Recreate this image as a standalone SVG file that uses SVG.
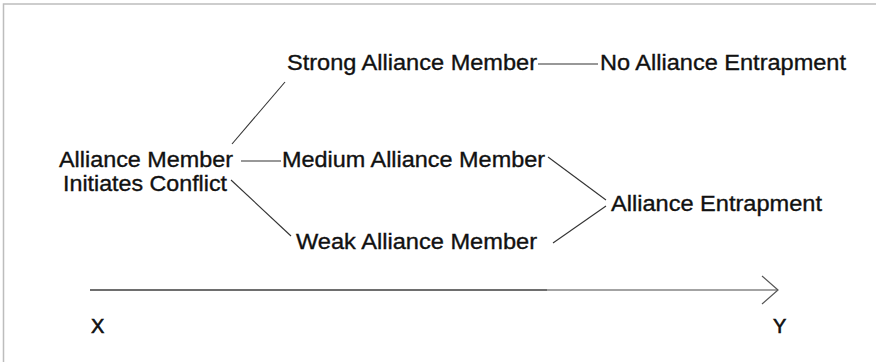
<svg xmlns="http://www.w3.org/2000/svg" width="876" height="362" viewBox="0 0 876 362">
<style>
text{font-family:"Liberation Sans",Arial,sans-serif;font-size:22px;fill:#111;stroke:#111;stroke-width:0.35}
.c{stroke:#333;stroke-width:1.1;fill:none}
</style>
<rect x="0" y="0" width="876" height="362" fill="#fff"/>
<path d="M3.5 362V4H876" fill="none" stroke="#bdbdbd" stroke-width="1.5"/>
<g id="connectors">
<line class="c" x1="285" y1="82" x2="232" y2="144"/>
<line class="c" x1="538" y1="64" x2="598" y2="64"/>
<line class="c" x1="241" y1="161" x2="281" y2="161"/>
<line class="c" x1="231" y1="180" x2="291" y2="236"/>
<line class="c" x1="548" y1="157" x2="606" y2="200"/>
<line class="c" x1="553" y1="243" x2="606" y2="206"/>
</g>
<g id="axis">
<line x1="90" y1="290" x2="548" y2="290" stroke="#6e6e6e" stroke-width="2"/>
<line x1="547" y1="290" x2="777" y2="290" stroke="#a3a3a3" stroke-width="2"/>
<path d="M762 276L778 290L762 304" fill="none" stroke="#555" stroke-width="1.2"/>
<text x="91" y="333" style="font-size:20px;stroke-width:0.6">X</text>
<text x="773" y="333" style="font-size:20px;stroke-width:0.6">Y</text>
</g>
<g id="n-initiates"><text x="59" y="167" textLength="174" lengthAdjust="spacingAndGlyphs">Alliance Member</text><text x="63" y="191" textLength="164" lengthAdjust="spacingAndGlyphs">Initiates Conflict</text></g>
<g id="n-strong"><text x="287" y="70" textLength="250" lengthAdjust="spacingAndGlyphs">Strong Alliance Member</text></g>
<g id="n-no"><text x="600" y="70" textLength="246" lengthAdjust="spacingAndGlyphs">No Alliance Entrapment</text></g>
<g id="n-medium"><text x="282" y="167" textLength="263" lengthAdjust="spacingAndGlyphs">Medium Alliance Member</text></g>
<g id="n-weak"><text x="296" y="249" textLength="241" lengthAdjust="spacingAndGlyphs">Weak Alliance Member</text></g>
<g id="n-entrap"><text x="611" y="211" textLength="211" lengthAdjust="spacingAndGlyphs">Alliance Entrapment</text></g>
</svg>
